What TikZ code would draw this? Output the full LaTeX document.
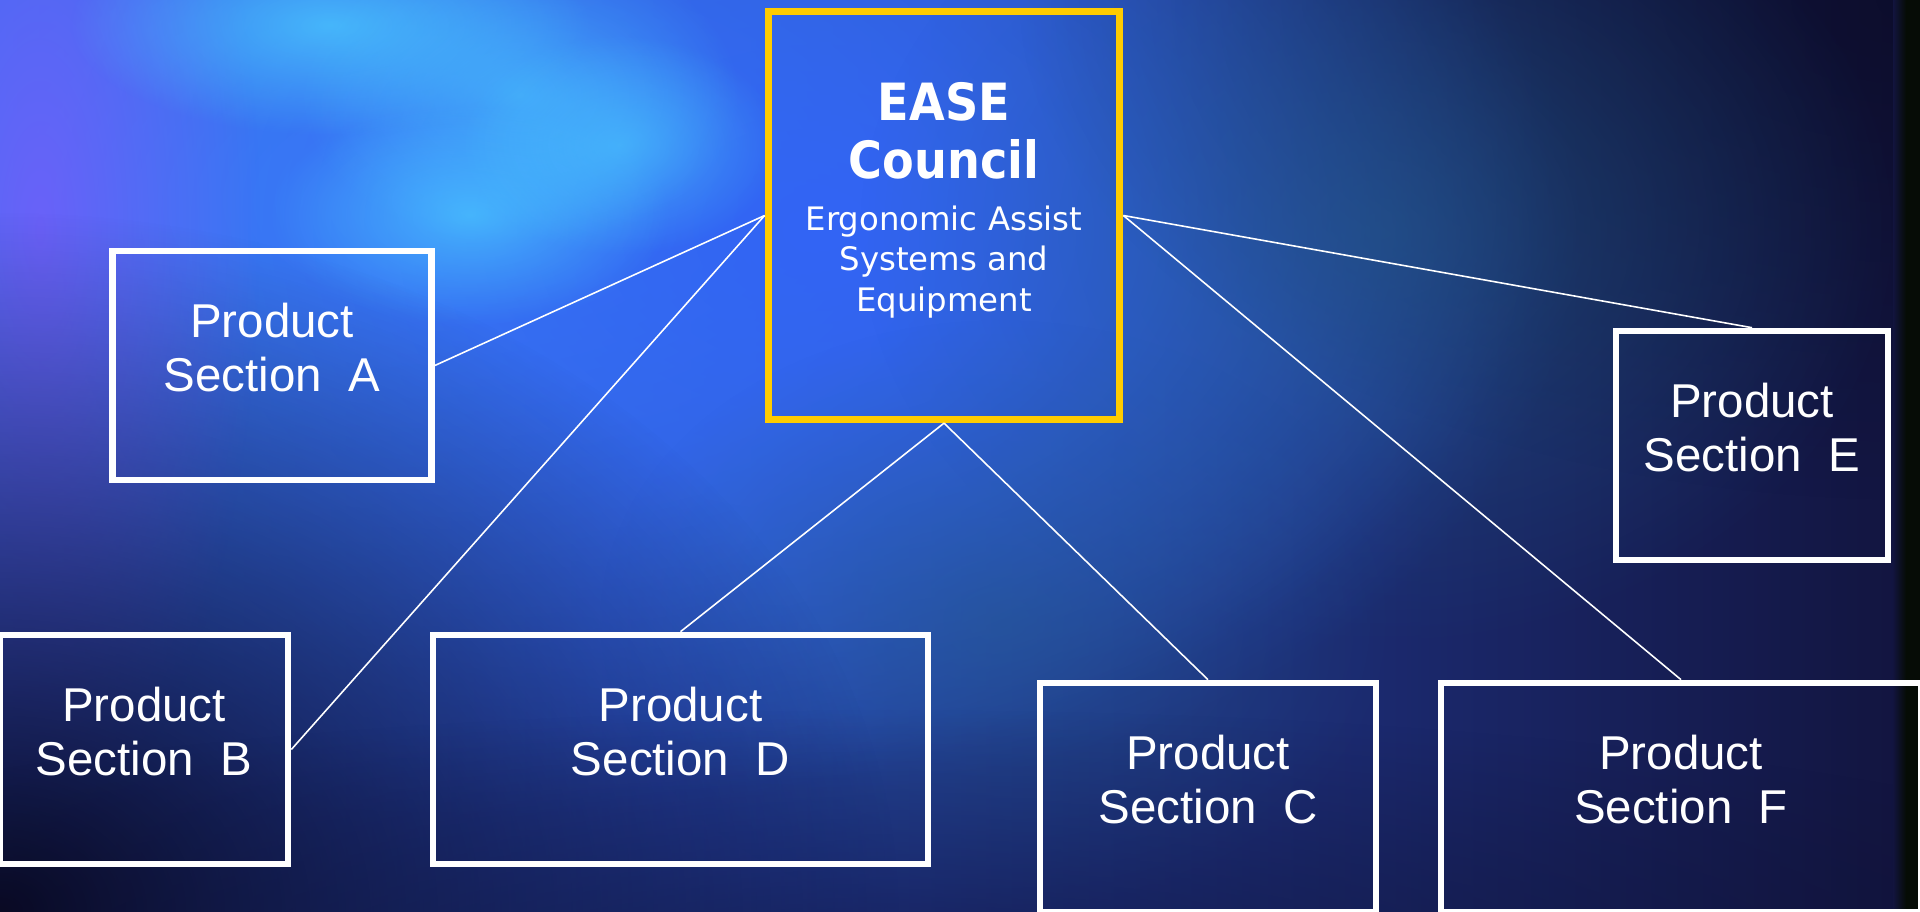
\documentclass[tikz,border=0pt]{standalone}
\usepackage{fontspec}
\setmainfont{Liberation Sans}
\newfontfamily\titlefont{DejaVu Sans Condensed}
\newfontfamily\subtitlefont{DejaVu Sans}
\usetikzlibrary{fadings}

\definecolor{councilgold}{RGB}{255,204,0}
\definecolor{bgleft}{RGB}{50,95,232}
\definecolor{bgmid}{RGB}{30,58,160}
\definecolor{bgright}{RGB}{18,20,62}
\definecolor{skyblue}{RGB}{62,135,252}
\definecolor{cyanglow}{RGB}{75,205,255}
\definecolor{violetglow}{RGB}{118,92,250}
\definecolor{councilblue}{RGB}{50,100,245}
\definecolor{tealglow}{RGB}{35,90,135}
\definecolor{nightblue}{RGB}{10,10,36}
\definecolor{edgeblack}{RGB}{6,12,6}

\tikzfading[name=softblob, inner color=transparent!0, outer color=transparent!100]

\tikzset{
  glow/.style={fill=#1, path fading=softblob},
  council/.style={draw=councilgold, line width=2pt, minimum width=3.515cm, minimum height=4.08cm, inner sep=0pt},
  section/.style={draw=white, line width=1.85pt, minimum width=#1, minimum height=2.29cm, inner sep=0pt},
  sectext/.style={text=white, align=center, inner sep=0pt, font=\fontsize{13.5}{15.1}\selectfont},
  link/.style={draw=white, line width=0.45pt},
}

\begin{document}
\begin{tikzpicture}[x=0.01cm, y=-0.01cm]
    \useasboundingbox (0,0) rectangle (1920,912);
    % background
    \shade[left color=bgleft, middle color=bgmid, right color=bgright] (0,0) rectangle (1920,912);
    \fill[glow=skyblue] (450,200) ellipse (1100 and 620);
    \fill[glow=councilblue] (820,230) ellipse (760 and 560);
    \fill[glow=violetglow, opacity=.8] (40,230) ellipse (220 and 600);
    \fill[glow=cyanglow, opacity=.75] (330,25) ellipse (260 and 110);
    \fill[glow=cyanglow, opacity=.6] (520,95) ellipse (220 and 150);
    \fill[glow=cyanglow, opacity=.7] (470,215) ellipse (200 and 110);
    \fill[glow=cyanglow, opacity=.6] (620,145) ellipse (160 and 110);
    \fill[glow=nightblue, opacity=.7] (1920,0) ellipse (900 and 500);
    \fill[glow=tealglow, opacity=.6] (1380,230) ellipse (520 and 420);
    \fill[glow=tealglow, opacity=.5] (1000,620) ellipse (400 and 300);
    \fill[glow=nightblue] (0,912) ellipse (900 and 700);
    \fill[glow=nightblue, opacity=.5] (900,960) ellipse (1400 and 250);
    \shade[left color=bgright, right color=edgeblack] (1893,0) rectangle (1906,912);
    \fill[edgeblack] (1906,0) rectangle (1920,912);

    % council
    \node[council] (council) at (944,215.5) {};
    \node[text=white, align=center, inner sep=0pt, font=\titlefont\bfseries\fontsize{14.6}{16.5}\selectfont] (title) at (944,130.5) {EASE\\Council};
    \node[text=white, align=center, inner sep=0pt, font=\subtitlefont\fontsize{9.2}{11.4}\selectfont] (subtitle) at (944,262) {Ergonomic Assist\\Systems and\\Equipment};

    % product sections
    \node[section=3.19cm] (secA) at (272,365.5) {};
    \node[section=2.88cm] (secB) at (144,749.5) {};
    \node[section=4.95cm] (secD) at (680.5,749.5) {};
    \node[section=3.36cm] (secC) at (1208,797.5) {};
    \node[section=2.72cm] (secE) at (1752,445.5) {};
    \node[section=4.80cm] (secF) at (1681,797.5) {};
    \node[sectext] (secAtext) at ([yshift=0.18cm]secA.center) {Product\\Section~~A};
    \node[sectext] (secBtext) at ([yshift=0.18cm]secB.center) {Product\\Section~~B};
    \node[sectext] (secDtext) at ([yshift=0.18cm]secD.center) {Product\\Section~~D};
    \node[sectext] (secCtext) at ([yshift=0.18cm]secC.center) {Product\\Section~~C};
    \node[sectext] (secEtext) at ([yshift=0.18cm]secE.center) {Product\\Section~~E};
    \node[sectext] (secFtext) at ([yshift=0.18cm]secF.center) {Product\\Section~~F};

    % links
    \draw[link] (council.west) -- (secA.east);
    \draw[link] (council.west) -- (secB.east);
    \draw[link] (council.south) -- (secD.north);
    \draw[link] (council.south) -- (secC.north);
    \draw[link] (council.east) -- (secE.north);
    \draw[link] (council.east) -- (secF.north);
\end{tikzpicture}
\end{document}
